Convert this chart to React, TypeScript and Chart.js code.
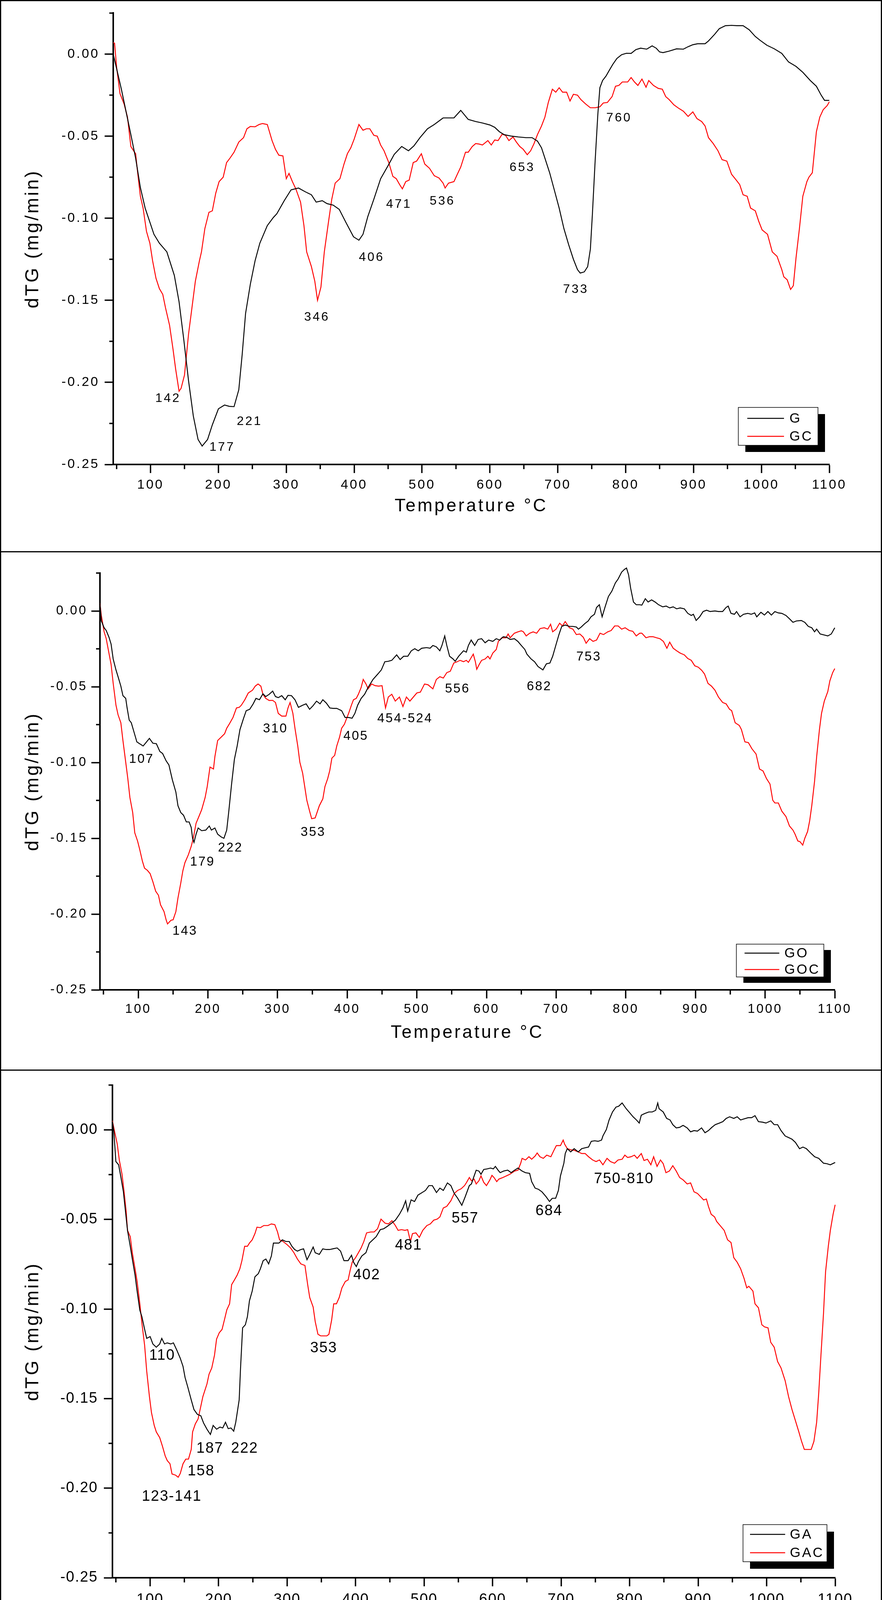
import React, { useEffect, useRef } from 'react';
import { Chart, registerables } from 'chart.js';

Chart.register(...registerables);

const FONT = "'Liberation Sans', Arial, Helvetica, sans-serif";
const PAGE_W = 2259;
const PAGE_H = 4250;

// ---------- axes ----------
const X_MIN = 45;
const X_MAX = 1100;
const Y_MIN = -0.25;
const Y_MAX = 0.025;
const X_TICKS = [100, 200, 300, 400, 500, 600, 700, 800, 900, 1000, 1100];
const X_MINOR = [50, 150, 250, 350, 450, 550, 650, 750, 850, 950, 1050];
const Y_TICKS = [0, -0.05, -0.1, -0.15, -0.2, -0.25];
const Y_MINOR = [0.025, -0.025, -0.075, -0.125, -0.175, -0.225];
const X_TITLE = 'Temperature °C';
const Y_TITLE = 'dTG (mg/min)';

// ---------- panel 1 : G / GC  ([temperature °C, dTG mg/min]) ----------
const G_POINTS = [[45,0.0000],[50,-0.0089],[57,-0.0214],[71,-0.0491],[78,-0.0634],[85,-0.0813],[92,-0.0938],[105,-0.1098],[113,-0.1152],[124,-0.1205],[135,-0.1348],[142,-0.1509],[149,-0.1741],[156,-0.1991],[163,-0.2205],[170,-0.2348],[176,-0.2388],[184,-0.2348],[191,-0.2259],[200,-0.2161],[209,-0.2138],[216,-0.2146],[223,-0.2148],[230,-0.2045],[235,-0.1830],[240,-0.1580],[247,-0.1402],[254,-0.1259],[261,-0.1152],[272,-0.1045],[281,-0.0995],[286,-0.0973],[297,-0.0893],[307,-0.0827],[318,-0.0816],[328,-0.0839],[337,-0.0857],[344,-0.0902],[353,-0.0893],[360,-0.0911],[369,-0.0920],[378,-0.0946],[388,-0.1027],[399,-0.1113],[407,-0.1134],[413,-0.1098],[420,-0.0991],[429,-0.0884],[439,-0.0759],[450,-0.0679],[459,-0.0611],[470,-0.0563],[480,-0.0589],[488,-0.0559],[497,-0.0509],[508,-0.0455],[518,-0.0429],[531,-0.0389],[547,-0.0389],[557,-0.0343],[568,-0.0398],[579,-0.0411],[589,-0.0420],[600,-0.0432],[607,-0.0446],[614,-0.0473],[621,-0.0491],[632,-0.0500],[642,-0.0505],[653,-0.0509],[662,-0.0509],[670,-0.0530],[676,-0.0571],[681,-0.0634],[688,-0.0723],[695,-0.0830],[702,-0.0938],[709,-0.1063],[716,-0.1161],[723,-0.1250],[729,-0.1313],[733,-0.1334],[739,-0.1327],[744,-0.1295],[748,-0.1188],[751,-0.0973],[755,-0.0652],[759,-0.0366],[762,-0.0205],[766,-0.0161],[771,-0.0134],[776,-0.0098],[781,-0.0063],[787,-0.0027],[794,-0.0004],[801,0.0005],[808,0.0004],[815,0.0027],[822,0.0036],[831,0.0030],[839,0.0050],[845,0.0036],[850,0.0013],[855,0.0009],[864,0.0018],[875,0.0032],[885,0.0030],[892,0.0045],[899,0.0057],[906,0.0063],[917,0.0063],[922,0.0080],[931,0.0120],[938,0.0155],[947,0.0173],[956,0.0175],[964,0.0173],[973,0.0173],[982,0.0148],[991,0.0107],[998,0.0084],[1008,0.0054],[1019,0.0032],[1030,0.0004],[1040,-0.0048],[1051,-0.0075],[1061,-0.0111],[1072,-0.0161],[1081,-0.0196],[1088,-0.0250],[1093,-0.0282],[1100,-0.0282]];
const GC_POINTS = [[45,0.0070],[47,0.0066],[50,-0.0080],[55,-0.0241],[61,-0.0304],[66,-0.0384],[71,-0.0563],[75,-0.0589],[78,-0.0607],[81,-0.0723],[85,-0.0866],[89,-0.0938],[94,-0.1080],[99,-0.1152],[103,-0.1259],[108,-0.1366],[113,-0.1429],[118,-0.1464],[122,-0.1545],[128,-0.1652],[133,-0.1795],[137,-0.1920],[142,-0.2054],[145,-0.2036],[150,-0.1955],[156,-0.1705],[161,-0.1545],[166,-0.1384],[172,-0.1259],[175,-0.1205],[180,-0.1063],[186,-0.0964],[191,-0.0955],[196,-0.0848],[201,-0.0777],[207,-0.0750],[212,-0.0661],[217,-0.0634],[223,-0.0598],[230,-0.0536],[237,-0.0509],[242,-0.0455],[247,-0.0441],[254,-0.0443],[260,-0.0429],[265,-0.0423],[272,-0.0429],[279,-0.0527],[284,-0.0580],[289,-0.0616],[295,-0.0620],[300,-0.0759],[304,-0.0727],[309,-0.0777],[314,-0.0821],[321,-0.0902],[326,-0.1045],[330,-0.1205],[337,-0.1295],[342,-0.1384],[346,-0.1500],[351,-0.1420],[356,-0.1205],[362,-0.1027],[367,-0.0884],[372,-0.0786],[379,-0.0759],[385,-0.0670],[390,-0.0607],[395,-0.0571],[400,-0.0518],[407,-0.0429],[413,-0.0464],[418,-0.0455],[423,-0.0455],[429,-0.0495],[434,-0.0500],[439,-0.0554],[444,-0.0589],[451,-0.0661],[457,-0.0745],[462,-0.0759],[467,-0.0795],[471,-0.0821],[476,-0.0777],[481,-0.0768],[487,-0.0661],[492,-0.0652],[499,-0.0607],[504,-0.0670],[511,-0.0696],[518,-0.0741],[525,-0.0755],[531,-0.0786],[534,-0.0816],[539,-0.0786],[547,-0.0777],[552,-0.0732],[557,-0.0688],[564,-0.0598],[568,-0.0598],[574,-0.0563],[579,-0.0545],[584,-0.0548],[589,-0.0554],[597,-0.0527],[602,-0.0554],[607,-0.0523],[612,-0.0527],[618,-0.0488],[623,-0.0495],[628,-0.0527],[634,-0.0505],[639,-0.0536],[644,-0.0563],[649,-0.0580],[655,-0.0613],[660,-0.0589],[665,-0.0545],[670,-0.0491],[676,-0.0438],[681,-0.0384],[686,-0.0295],[692,-0.0214],[697,-0.0232],[702,-0.0205],[707,-0.0232],[713,-0.0232],[718,-0.0286],[723,-0.0245],[729,-0.0250],[734,-0.0277],[741,-0.0304],[748,-0.0327],[755,-0.0327],[762,-0.0321],[767,-0.0298],[773,-0.0295],[780,-0.0259],[785,-0.0196],[790,-0.0191],[795,-0.0170],[803,-0.0170],[808,-0.0143],[813,-0.0170],[818,-0.0191],[824,-0.0152],[830,-0.0202],[834,-0.0161],[841,-0.0191],[848,-0.0209],[854,-0.0214],[859,-0.0259],[864,-0.0277],[871,-0.0309],[878,-0.0330],[885,-0.0348],[892,-0.0380],[899,-0.0352],[905,-0.0393],[912,-0.0411],[917,-0.0438],[922,-0.0509],[929,-0.0545],[936,-0.0589],[942,-0.0643],[949,-0.0652],[956,-0.0732],[963,-0.0768],[968,-0.0795],[973,-0.0857],[979,-0.0866],[984,-0.0938],[991,-0.0955],[996,-0.1018],[1001,-0.1071],[1009,-0.1098],[1016,-0.1205],[1023,-0.1232],[1030,-0.1313],[1033,-0.1357],[1038,-0.1375],[1043,-0.1434],[1047,-0.1411],[1051,-0.1241],[1056,-0.1063],[1061,-0.0866],[1067,-0.0777],[1070,-0.0750],[1075,-0.0723],[1081,-0.0473],[1086,-0.0384],[1091,-0.0339],[1097,-0.0313],[1100,-0.0291]];
const P1_PEAKS = [['142',124.6,-0.2098],['177',204.5,-0.2396],['221',244.7,-0.2238],['346',344,-0.1604],['406',424.6,-0.1238],['471',464.8,-0.0916],['536',528.9,-0.0896],['653',646.5,-0.0691],['733',725.4,-0.1434],['760',789.1,-0.0389]];

// ---------- panel 2 : GO / GOC ----------
const GO_POINTS = [[45,0.0050],[47,-0.0066],[51,-0.0111],[54,-0.0129],[58,-0.0174],[61,-0.0219],[64,-0.0317],[68,-0.0389],[71,-0.0434],[75,-0.0496],[78,-0.0559],[82,-0.0577],[84,-0.0640],[87,-0.0720],[90,-0.0738],[94,-0.0801],[98,-0.0864],[102,-0.0876],[107,-0.0891],[111,-0.0869],[116,-0.0841],[121,-0.0873],[126,-0.0876],[131,-0.0927],[135,-0.0941],[140,-0.0989],[144,-0.1016],[149,-0.1115],[154,-0.1195],[157,-0.1285],[161,-0.1330],[165,-0.1348],[169,-0.1392],[173,-0.1392],[176,-0.1428],[178,-0.1500],[180,-0.1527],[183,-0.1473],[186,-0.1432],[191,-0.1450],[197,-0.1446],[202,-0.1419],[205,-0.1446],[210,-0.1432],[214,-0.1473],[219,-0.1491],[223,-0.1500],[227,-0.1446],[230,-0.1321],[234,-0.1142],[238,-0.0980],[242,-0.0891],[246,-0.0783],[251,-0.0711],[255,-0.0658],[260,-0.0649],[265,-0.0613],[269,-0.0577],[274,-0.0586],[279,-0.0547],[283,-0.0565],[288,-0.0550],[293,-0.0529],[297,-0.0565],[301,-0.0572],[306,-0.0559],[311,-0.0586],[315,-0.0557],[320,-0.0559],[325,-0.0586],[330,-0.0636],[336,-0.0622],[341,-0.0613],[346,-0.0649],[351,-0.0625],[356,-0.0595],[361,-0.0613],[365,-0.0586],[370,-0.0608],[375,-0.0640],[380,-0.0643],[385,-0.0643],[392,-0.0658],[397,-0.0703],[402,-0.0703],[407,-0.0708],[411,-0.0676],[415,-0.0622],[420,-0.0577],[425,-0.0550],[430,-0.0505],[437,-0.0452],[444,-0.0416],[449,-0.0389],[454,-0.0335],[459,-0.0332],[464,-0.0326],[471,-0.0290],[476,-0.0321],[481,-0.0299],[487,-0.0299],[492,-0.0263],[497,-0.0249],[502,-0.0263],[507,-0.0246],[514,-0.0242],[519,-0.0246],[523,-0.0228],[528,-0.0237],[533,-0.0263],[536,-0.0228],[540,-0.0165],[543,-0.0228],[547,-0.0299],[552,-0.0317],[555,-0.0332],[560,-0.0299],[567,-0.0263],[571,-0.0272],[574,-0.0228],[578,-0.0192],[583,-0.0228],[588,-0.0188],[593,-0.0183],[598,-0.0210],[603,-0.0192],[609,-0.0201],[614,-0.0183],[619,-0.0192],[624,-0.0170],[629,-0.0174],[634,-0.0188],[640,-0.0183],[645,-0.0201],[650,-0.0228],[655,-0.0254],[658,-0.0285],[664,-0.0317],[669,-0.0335],[674,-0.0367],[681,-0.0389],[686,-0.0349],[691,-0.0344],[695,-0.0299],[700,-0.0219],[704,-0.0156],[708,-0.0102],[713,-0.0093],[719,-0.0102],[724,-0.0102],[729,-0.0106],[732,-0.0120],[736,-0.0106],[741,-0.0084],[746,-0.0066],[750,-0.0039],[755,-0.0022],[758,0.0023],[762,0.0041],[766,-0.0039],[770,0.0023],[775,0.0095],[780,0.0131],[785,0.0185],[789,0.0211],[794,0.0256],[798,0.0274],[801,0.0283],[804,0.0238],[807,0.0149],[811,0.0059],[815,0.0041],[820,0.0041],[823,0.0038],[828,0.0081],[832,0.0059],[837,0.0073],[842,0.0059],[847,0.0041],[853,0.0027],[858,0.0032],[863,0.0020],[868,0.0027],[873,0.0014],[878,0.0020],[884,0.0014],[889,-0.0016],[894,-0.0030],[897,-0.0022],[901,-0.0063],[906,-0.0039],[911,-0.0004],[916,0.0005],[921,-0.0004],[928,0.0000],[933,-0.0004],[939,-0.0004],[944,0.0023],[947,0.0032],[951,-0.0016],[956,-0.0022],[959,-0.0004],[964,-0.0039],[969,-0.0022],[975,-0.0016],[980,-0.0022],[985,-0.0013],[988,-0.0039],[994,-0.0009],[999,-0.0027],[1004,-0.0004],[1009,-0.0027],[1014,-0.0004],[1019,-0.0013],[1024,-0.0016],[1030,-0.0030],[1035,-0.0052],[1040,-0.0075],[1045,-0.0066],[1052,-0.0063],[1057,-0.0075],[1062,-0.0102],[1067,-0.0111],[1071,-0.0138],[1074,-0.0120],[1079,-0.0152],[1085,-0.0159],[1090,-0.0165],[1095,-0.0152],[1100,-0.0111]];
const GOC_POINTS = [[45,0.0050],[47,-0.0030],[51,-0.0138],[54,-0.0183],[58,-0.0281],[61,-0.0353],[64,-0.0478],[68,-0.0622],[71,-0.0685],[75,-0.0738],[78,-0.0855],[82,-0.0998],[85,-0.1106],[88,-0.1231],[92,-0.1330],[95,-0.1464],[99,-0.1518],[102,-0.1572],[106,-0.1652],[109,-0.1697],[113,-0.1711],[117,-0.1733],[121,-0.1787],[125,-0.1849],[129,-0.1876],[132,-0.1939],[137,-0.1984],[140,-0.2038],[142,-0.2065],[147,-0.2041],[150,-0.2038],[154,-0.1984],[157,-0.1894],[161,-0.1796],[164,-0.1715],[167,-0.1661],[172,-0.1608],[176,-0.1554],[179,-0.1500],[183,-0.1401],[187,-0.1357],[191,-0.1312],[196,-0.1231],[199,-0.1159],[203,-0.1030],[208,-0.1043],[210,-0.0962],[214,-0.0855],[219,-0.0833],[224,-0.0810],[227,-0.0774],[231,-0.0744],[236,-0.0703],[241,-0.0640],[245,-0.0636],[248,-0.0622],[253,-0.0586],[258,-0.0541],[264,-0.0523],[268,-0.0496],[272,-0.0482],[276,-0.0496],[279,-0.0550],[283,-0.0577],[288,-0.0591],[293,-0.0590],[297,-0.0604],[301,-0.0676],[306,-0.0694],[312,-0.0694],[315,-0.0640],[318,-0.0604],[322,-0.0676],[325,-0.0774],[329,-0.0891],[332,-0.0998],[336,-0.1070],[339,-0.1159],[342,-0.1249],[346,-0.1321],[349,-0.1371],[354,-0.1366],[360,-0.1285],[365,-0.1240],[368,-0.1159],[372,-0.1106],[375,-0.1052],[378,-0.0971],[382,-0.0953],[385,-0.0891],[389,-0.0833],[392,-0.0774],[396,-0.0747],[399,-0.0711],[402,-0.0676],[406,-0.0622],[409,-0.0586],[413,-0.0577],[416,-0.0550],[420,-0.0505],[423,-0.0452],[427,-0.0482],[430,-0.0514],[435,-0.0482],[440,-0.0493],[445,-0.0496],[450,-0.0493],[455,-0.0640],[459,-0.0568],[464,-0.0550],[469,-0.0595],[475,-0.0568],[480,-0.0631],[485,-0.0568],[490,-0.0595],[495,-0.0568],[500,-0.0541],[505,-0.0536],[511,-0.0482],[516,-0.0487],[523,-0.0514],[528,-0.0452],[533,-0.0434],[538,-0.0443],[543,-0.0407],[548,-0.0398],[553,-0.0344],[558,-0.0335],[562,-0.0326],[567,-0.0335],[571,-0.0326],[574,-0.0339],[578,-0.0308],[581,-0.0285],[584,-0.0335],[586,-0.0385],[590,-0.0349],[593,-0.0326],[598,-0.0317],[602,-0.0299],[605,-0.0317],[609,-0.0278],[614,-0.0254],[617,-0.0201],[622,-0.0177],[628,-0.0177],[631,-0.0152],[634,-0.0177],[640,-0.0147],[645,-0.0138],[650,-0.0131],[653,-0.0138],[657,-0.0165],[662,-0.0147],[667,-0.0138],[672,-0.0147],[677,-0.0116],[683,-0.0111],[688,-0.0120],[692,-0.0088],[695,-0.0138],[700,-0.0120],[705,-0.0081],[709,-0.0099],[713,-0.0070],[719,-0.0111],[724,-0.0120],[729,-0.0156],[734,-0.0152],[739,-0.0174],[743,-0.0213],[748,-0.0183],[753,-0.0201],[758,-0.0192],[763,-0.0147],[768,-0.0156],[774,-0.0138],[779,-0.0129],[784,-0.0099],[789,-0.0099],[794,-0.0120],[799,-0.0111],[805,-0.0129],[810,-0.0134],[815,-0.0165],[820,-0.0147],[823,-0.0147],[829,-0.0177],[834,-0.0170],[839,-0.0170],[844,-0.0177],[849,-0.0183],[854,-0.0201],[859,-0.0246],[863,-0.0206],[868,-0.0246],[873,-0.0263],[878,-0.0278],[884,-0.0290],[889,-0.0314],[894,-0.0326],[899,-0.0362],[904,-0.0371],[909,-0.0392],[913,-0.0416],[918,-0.0478],[923,-0.0496],[928,-0.0523],[933,-0.0568],[939,-0.0604],[944,-0.0613],[949,-0.0649],[952,-0.0658],[957,-0.0738],[963,-0.0756],[966,-0.0783],[971,-0.0864],[976,-0.0869],[981,-0.0909],[987,-0.0944],[992,-0.1043],[997,-0.1056],[1002,-0.1106],[1007,-0.1142],[1011,-0.1249],[1014,-0.1267],[1019,-0.1267],[1024,-0.1321],[1030,-0.1357],[1035,-0.1419],[1040,-0.1446],[1043,-0.1473],[1047,-0.1518],[1050,-0.1522],[1054,-0.1545],[1057,-0.1500],[1061,-0.1455],[1064,-0.1384],[1067,-0.1285],[1071,-0.1124],[1074,-0.0962],[1078,-0.0783],[1081,-0.0676],[1085,-0.0595],[1090,-0.0532],[1093,-0.0461],[1097,-0.0407],[1100,-0.0380]];
const P2_PEAKS = [['107',103.9,-0.0980],['143',166.3,-0.2113],['179',191.4,-0.1656],['222',231.5,-0.1563],['310',296.1,-0.0778],['353',350.3,-0.1461],['405',411.7,-0.0828],['454-524',482.1,-0.0711],['556',557.5,-0.0514],['682',674.9,-0.0500],['753',746,-0.0303]];

// ---------- panel 3 : GA / GAC ----------
const GA_POINTS = [[45,0.0046],[47,-0.0007],[50,-0.0177],[54,-0.0195],[57,-0.0257],[61,-0.0346],[64,-0.0454],[67,-0.0561],[71,-0.0650],[74,-0.0721],[78,-0.0811],[81,-0.0900],[85,-0.1007],[88,-0.1043],[92,-0.1114],[95,-0.1164],[100,-0.1154],[104,-0.1195],[109,-0.1213],[114,-0.1195],[117,-0.1164],[121,-0.1195],[125,-0.1189],[130,-0.1195],[134,-0.1189],[139,-0.1230],[144,-0.1275],[148,-0.1320],[151,-0.1382],[155,-0.1436],[160,-0.1507],[164,-0.1561],[169,-0.1588],[174,-0.1596],[178,-0.1636],[183,-0.1671],[188,-0.1700],[192,-0.1650],[197,-0.1671],[202,-0.1659],[206,-0.1664],[210,-0.1632],[214,-0.1668],[218,-0.1664],[222,-0.1682],[225,-0.1632],[230,-0.1507],[232,-0.1329],[235,-0.1105],[239,-0.1088],[242,-0.1043],[245,-0.0954],[249,-0.0900],[253,-0.0820],[258,-0.0802],[261,-0.0775],[265,-0.0730],[269,-0.0721],[273,-0.0748],[277,-0.0704],[280,-0.0632],[284,-0.0632],[288,-0.0632],[293,-0.0614],[298,-0.0623],[303,-0.0623],[307,-0.0650],[311,-0.0668],[315,-0.0677],[320,-0.0668],[324,-0.0664],[329,-0.0725],[333,-0.0695],[338,-0.0654],[341,-0.0686],[347,-0.0695],[352,-0.0664],[357,-0.0668],[362,-0.0668],[368,-0.0663],[373,-0.0659],[378,-0.0677],[383,-0.0730],[389,-0.0730],[394,-0.0700],[397,-0.0739],[401,-0.0763],[404,-0.0736],[409,-0.0704],[415,-0.0686],[420,-0.0632],[425,-0.0614],[430,-0.0596],[436,-0.0557],[441,-0.0552],[446,-0.0539],[451,-0.0525],[458,-0.0504],[464,-0.0471],[469,-0.0436],[473,-0.0396],[476,-0.0454],[481,-0.0391],[486,-0.0400],[491,-0.0364],[497,-0.0350],[502,-0.0338],[507,-0.0311],[512,-0.0311],[518,-0.0350],[523,-0.0325],[528,-0.0338],[534,-0.0296],[539,-0.0311],[544,-0.0355],[549,-0.0382],[555,-0.0421],[560,-0.0373],[566,-0.0311],[569,-0.0302],[573,-0.0257],[576,-0.0225],[580,-0.0230],[583,-0.0248],[587,-0.0221],[592,-0.0218],[597,-0.0213],[601,-0.0218],[604,-0.0204],[608,-0.0225],[611,-0.0239],[616,-0.0230],[622,-0.0225],[627,-0.0239],[632,-0.0225],[637,-0.0213],[643,-0.0230],[648,-0.0239],[654,-0.0243],[657,-0.0289],[662,-0.0325],[667,-0.0332],[672,-0.0346],[678,-0.0373],[683,-0.0400],[687,-0.0382],[692,-0.0382],[696,-0.0338],[699,-0.0257],[704,-0.0186],[706,-0.0132],[709,-0.0105],[714,-0.0123],[719,-0.0105],[725,-0.0123],[730,-0.0105],[735,-0.0100],[740,-0.0096],[744,-0.0064],[749,-0.0061],[754,-0.0064],[759,-0.0057],[761,-0.0034],[766,0.0002],[770,0.0055],[775,0.0100],[780,0.0127],[784,0.0132],[789,0.0150],[795,0.0118],[800,0.0096],[805,0.0073],[810,0.0055],[814,0.0038],[817,0.0082],[822,0.0091],[828,0.0100],[833,0.0100],[838,0.0109],[841,0.0150],[843,0.0118],[849,0.0100],[854,0.0064],[859,0.0055],[863,0.0029],[868,0.0011],[873,0.0014],[878,0.0025],[884,0.0011],[889,-0.0011],[894,-0.0004],[899,-0.0007],[905,0.0011],[910,-0.0016],[915,-0.0004],[920,0.0014],[925,0.0029],[931,0.0038],[936,0.0046],[941,0.0064],[946,0.0073],[952,0.0064],[957,0.0073],[962,0.0055],[967,0.0061],[973,0.0068],[978,0.0068],[983,0.0079],[988,0.0046],[994,0.0043],[999,0.0038],[1006,0.0050],[1011,0.0029],[1016,0.0029],[1021,-0.0004],[1027,-0.0034],[1032,-0.0043],[1037,-0.0052],[1042,-0.0070],[1048,-0.0105],[1053,-0.0096],[1058,-0.0105],[1065,-0.0132],[1070,-0.0150],[1076,-0.0159],[1083,-0.0186],[1088,-0.0189],[1093,-0.0195],[1100,-0.0182]];
const GAC_POINTS = [[45,0.0050],[48,-0.0007],[52,-0.0079],[55,-0.0168],[59,-0.0248],[62,-0.0346],[65,-0.0454],[67,-0.0561],[71,-0.0596],[74,-0.0686],[78,-0.0775],[81,-0.0846],[85,-0.0971],[88,-0.1079],[92,-0.1204],[95,-0.1346],[99,-0.1489],[102,-0.1579],[106,-0.1650],[109,-0.1686],[114,-0.1718],[118,-0.1766],[122,-0.1820],[125,-0.1846],[129,-0.1864],[132,-0.1921],[137,-0.1927],[141,-0.1939],[144,-0.1918],[148,-0.1864],[152,-0.1838],[156,-0.1838],[160,-0.1784],[162,-0.1686],[166,-0.1641],[170,-0.1614],[174,-0.1543],[177,-0.1489],[183,-0.1418],[186,-0.1364],[190,-0.1329],[194,-0.1257],[197,-0.1168],[201,-0.1132],[205,-0.1114],[209,-0.1052],[212,-0.1004],[216,-0.0971],[219,-0.0864],[223,-0.0838],[227,-0.0811],[231,-0.0775],[234,-0.0730],[238,-0.0650],[242,-0.0650],[245,-0.0632],[249,-0.0614],[253,-0.0579],[256,-0.0543],[261,-0.0546],[266,-0.0534],[272,-0.0534],[277,-0.0525],[282,-0.0529],[286,-0.0570],[289,-0.0614],[294,-0.0623],[300,-0.0641],[305,-0.0659],[310,-0.0686],[315,-0.0721],[320,-0.0748],[326,-0.0757],[330,-0.0864],[333,-0.0936],[338,-0.0989],[341,-0.1070],[345,-0.1141],[349,-0.1150],[354,-0.1150],[358,-0.1150],[361,-0.1141],[365,-0.1061],[368,-0.0971],[372,-0.0971],[376,-0.0936],[380,-0.0882],[385,-0.0846],[389,-0.0838],[392,-0.0784],[395,-0.0739],[400,-0.0713],[404,-0.0686],[408,-0.0659],[412,-0.0623],[416,-0.0575],[422,-0.0570],[427,-0.0570],[432,-0.0552],[437,-0.0498],[443,-0.0521],[448,-0.0525],[453,-0.0507],[458,-0.0534],[462,-0.0561],[467,-0.0557],[472,-0.0561],[476,-0.0557],[480,-0.0623],[483,-0.0579],[488,-0.0575],[493,-0.0600],[498,-0.0561],[504,-0.0534],[509,-0.0525],[514,-0.0504],[519,-0.0498],[523,-0.0486],[528,-0.0436],[533,-0.0427],[539,-0.0396],[544,-0.0355],[549,-0.0338],[554,-0.0329],[559,-0.0311],[562,-0.0293],[566,-0.0266],[569,-0.0284],[573,-0.0275],[576,-0.0302],[580,-0.0284],[583,-0.0257],[587,-0.0293],[591,-0.0311],[596,-0.0279],[599,-0.0254],[602,-0.0266],[606,-0.0289],[609,-0.0275],[615,-0.0266],[620,-0.0257],[625,-0.0248],[632,-0.0230],[637,-0.0225],[641,-0.0186],[643,-0.0159],[648,-0.0168],[653,-0.0150],[657,-0.0164],[662,-0.0146],[665,-0.0129],[669,-0.0150],[674,-0.0159],[679,-0.0141],[685,-0.0150],[689,-0.0118],[693,-0.0088],[699,-0.0088],[703,-0.0057],[705,-0.0079],[709,-0.0105],[714,-0.0111],[719,-0.0114],[725,-0.0123],[730,-0.0132],[735,-0.0132],[740,-0.0150],[746,-0.0168],[751,-0.0177],[756,-0.0168],[761,-0.0195],[767,-0.0159],[772,-0.0177],[778,-0.0186],[783,-0.0168],[789,-0.0164],[793,-0.0141],[797,-0.0154],[802,-0.0150],[807,-0.0141],[811,-0.0159],[817,-0.0132],[821,-0.0171],[826,-0.0164],[831,-0.0195],[835,-0.0150],[840,-0.0204],[845,-0.0168],[849,-0.0189],[853,-0.0239],[858,-0.0230],[863,-0.0200],[868,-0.0230],[873,-0.0266],[878,-0.0279],[884,-0.0302],[889,-0.0296],[894,-0.0346],[899,-0.0355],[905,-0.0379],[908,-0.0391],[912,-0.0386],[915,-0.0427],[919,-0.0471],[924,-0.0486],[927,-0.0511],[932,-0.0534],[938,-0.0561],[943,-0.0614],[948,-0.0629],[952,-0.0713],[957,-0.0739],[962,-0.0775],[967,-0.0829],[971,-0.0882],[974,-0.0873],[980,-0.0900],[983,-0.0971],[988,-0.0993],[993,-0.1088],[997,-0.1100],[1002,-0.1105],[1006,-0.1186],[1011,-0.1213],[1016,-0.1293],[1021,-0.1329],[1027,-0.1400],[1032,-0.1489],[1037,-0.1561],[1042,-0.1623],[1047,-0.1686],[1051,-0.1739],[1055,-0.1784],[1060,-0.1784],[1065,-0.1784],[1069,-0.1739],[1073,-0.1632],[1076,-0.1471],[1079,-0.1275],[1083,-0.1025],[1086,-0.0793],[1090,-0.0650],[1093,-0.0561],[1097,-0.0471],[1100,-0.0418]];
const P3_PEAKS = [['110',117,-0.1261],['187',186.8,-0.1779],['222',237.4,-0.1779],['158',173.9,-0.1905],['123-141',131,-0.2048],['353',352.9,-0.1218],['402',415.7,-0.0811],['481',476.7,-0.0646],['557',559.4,-0.0495],['684',681.7,-0.0454],['750-810',791,-0.0275]];

// ---------- layout / style (pixels) ----------
const PANELS: any[] = [
  {
    top: 0, h: 1413, area: { l: 290, r: 2124, t: 33, b: 1189 },
    names: ['G', 'GC'], series: [G_POINTS, GC_POINTS], peaks: P1_PEAKS,
    tick: { size: 34, sp: 4, xpad: 10, ypad: 13 }, peak: { size: 32, sp: 4 }, xTitlePad: 89, yTitlePad: 56,
    legend: { right: 29, bottom: 49, w: 204, h: 97, sx: 18, sy: 17, x0: 23, x1: 117, tx: 131, rows: [28, 74] },
  },
  {
    top: 1413, h: 1327, area: { l: 256, r: 2138, t: 54, b: 1121 },
    names: ['GO', 'GOC'], series: [GO_POINTS, GOC_POINTS], peaks: P2_PEAKS,
    tick: { size: 33, sp: 4, xpad: 8, ypad: 10 }, peak: { size: 33, sp: 3 }, xTitlePad: 68, yTitlePad: 56,
    legend: { right: 28, bottom: 33, w: 224, h: 84, sx: 18, sy: 15, x0: 21, x1: 110, tx: 123, rows: [23, 65] },
  },
  {
    top: 2740, h: 1510, area: { l: 288, r: 2139, t: 29, b: 1299 },
    names: ['GA', 'GAC'], series: [GA_POINTS, GAC_POINTS], peaks: P3_PEAKS,
    tick: { size: 38, sp: 2, xpad: 12, ypad: 15 }, peak: { size: 38, sp: 2 }, xTitlePad: 56, yTitlePad: 56,
    legend: { right: 21, bottom: 41, w: 215, h: 95, sx: 18, sy: 18, x0: 18, x1: 108, tx: 120, rows: [25, 72] },
  },
];

const COLORS = ['#000000', '#ff0000'];

function makePlugin(p: any) {
  return {
    id: 'panelDecor',
    beforeDraw(chart: any) {
      chart.ctx.letterSpacing = '5px';
    },
    afterDatasetsDraw(chart: any) {
      chart.ctx.letterSpacing = p.tick.sp + 'px';
    },
    afterDraw(chart: any) {
      const ctx = chart.ctx;
      const xs = chart.scales.x;
      const ys = chart.scales.y;
      const a = chart.chartArea;
      // minor ticks
      ctx.save();
      ctx.strokeStyle = '#000';
      ctx.lineWidth = 3.5;
      ctx.beginPath();
      X_MINOR.forEach((v) => {
        const px = xs.getPixelForValue(v);
        ctx.moveTo(px, a.bottom);
        ctx.lineTo(px, a.bottom + 12);
      });
      Y_MINOR.forEach((v) => {
        const py = ys.getPixelForValue(v);
        ctx.moveTo(a.left - 10, py);
        ctx.lineTo(a.left, py);
      });
      ctx.stroke();
      ctx.restore();
      // peak labels
      ctx.save();
      ctx.letterSpacing = p.peak.sp + 'px';
      ctx.font = `${p.peak.size}px ${FONT}`;
      ctx.fillStyle = '#000';
      ctx.textAlign = 'center';
      ctx.textBaseline = 'middle';
      p.peaks.forEach((pk: any) => {
        ctx.fillText(pk[0], xs.getPixelForValue(pk[1]) + p.peak.sp / 2, ys.getPixelForValue(pk[2]));
      });
      ctx.restore();
      // legend box with shadow
      const L = p.legend;
      const bx = a.right - L.right - L.w;
      const by = a.bottom - L.bottom - L.h;
      ctx.save();
      ctx.fillStyle = '#000';
      ctx.fillRect(bx + L.sx, by + L.sy, L.w, L.h);
      ctx.fillStyle = '#fff';
      ctx.fillRect(bx, by, L.w, L.h);
      ctx.strokeStyle = '#000';
      ctx.lineWidth = 1.5;
      ctx.strokeRect(bx, by, L.w, L.h);
      chart.data.datasets.forEach((ds: any, i: number) => {
        const y = by + L.rows[i];
        ctx.strokeStyle = ds.borderColor;
        ctx.lineWidth = 2.5;
        ctx.beginPath();
        ctx.moveTo(bx + L.x0, y);
        ctx.lineTo(bx + L.x1, y);
        ctx.stroke();
        ctx.fillStyle = '#000';
        ctx.font = `35px ${FONT}`;
        ctx.letterSpacing = '4px';
        ctx.textAlign = 'left';
        ctx.textBaseline = 'middle';
        ctx.fillText(ds.label, bx + L.tx, y + 1);
      });
      ctx.restore();
    },
  };
}

function buildConfig(p: any): any {
  const W = PAGE_W;
  const H = p.h;
  return {
    type: 'line',
    data: {
      datasets: p.series.map((pts: number[][], i: number) => ({
        label: p.names[i],
        data: pts.map((d) => ({ x: d[0], y: d[1] })),
        borderColor: COLORS[i],
        backgroundColor: COLORS[i],
        borderWidth: 2.4,
        pointRadius: 0,
        fill: false,
        tension: 0,
        clip: false,
      })),
    },
    options: {
      animation: false,
      responsive: false,
      maintainAspectRatio: false,
      devicePixelRatio: 1,
      events: [],
      layout: { padding: { top: p.area.t, right: W - p.area.r, left: 0, bottom: 0 } },
      plugins: { legend: { display: false }, tooltip: { enabled: false }, title: { display: false } },
      scales: {
        x: {
          type: 'linear',
          position: 'bottom',
          min: X_MIN,
          max: X_MAX,
          afterBuildTicks: (s: any) => { s.ticks = X_TICKS.map((v) => ({ value: v })); },
          afterFit: (s: any) => { s.height = H - p.area.b; },
          ticks: {
            autoSkip: false, maxRotation: 0, minRotation: 0, padding: p.tick.xpad, color: '#000', z: 1,
            font: { family: FONT, size: p.tick.size },
            callback: (v: any) => String(v),
          },
          grid: { display: true, drawOnChartArea: false, drawTicks: true, tickLength: 22, tickWidth: 3.5, tickColor: '#000' },
          border: { display: true, color: '#000', width: 4 },
          title: {
            display: true, text: X_TITLE, color: '#000',
            font: { family: FONT, size: 46 }, padding: { top: 0, bottom: p.xTitlePad },
          },
        },
        y: {
          type: 'linear',
          position: 'left',
          min: Y_MIN,
          max: Y_MAX,
          afterBuildTicks: (s: any) => { s.ticks = Y_TICKS.map((v) => ({ value: v })); },
          afterFit: (s: any) => { s.width = p.area.l; },
          ticks: {
            autoSkip: false, padding: p.tick.ypad, color: '#000', z: 1,
            font: { family: FONT, size: p.tick.size },
            callback: (v: any) => Number(v).toFixed(2),
          },
          grid: { display: true, drawOnChartArea: false, drawTicks: true, tickLength: 22, tickWidth: 3.5, tickColor: '#000' },
          border: { display: true, color: '#000', width: 4 },
          title: {
            display: true, text: Y_TITLE, color: '#000',
            font: { family: FONT, size: 48 }, padding: { top: p.yTitlePad, bottom: 0 },
          },
        },
      },
    },
    plugins: [makePlugin(p)],
  };
}

function Panel({ p }: { p: any }) {
  const ref = useRef<HTMLCanvasElement>(null);
  useEffect(() => {
    const chart = new Chart(ref.current as HTMLCanvasElement, buildConfig(p));
    return () => chart.destroy();
  }, [p]);
  return (
    <div style={{ position: 'absolute', left: 0, top: p.top, width: PAGE_W, height: p.h }}>
      <canvas ref={ref} width={PAGE_W} height={p.h} style={{ display: 'block', width: PAGE_W, height: p.h }} />
    </div>
  );
}

export default function App() {
  return (
    <div style={{ position: 'absolute', left: 0, top: 0, width: PAGE_W, height: PAGE_H, background: '#fff', overflow: 'hidden' }}>
      {PANELS.map((p, i) => <Panel key={i} p={p} />)}
      <div style={{ position: 'absolute', left: 0, top: 1411, width: PAGE_W, height: 3, background: '#000' }} />
      <div style={{ position: 'absolute', left: 0, top: 2738, width: PAGE_W, height: 3, background: '#000' }} />
      <div style={{ position: 'absolute', left: 0, top: 0, width: PAGE_W, height: PAGE_H, border: '3px solid #000', boxSizing: 'border-box', pointerEvents: 'none' }} />
    </div>
  );
}
